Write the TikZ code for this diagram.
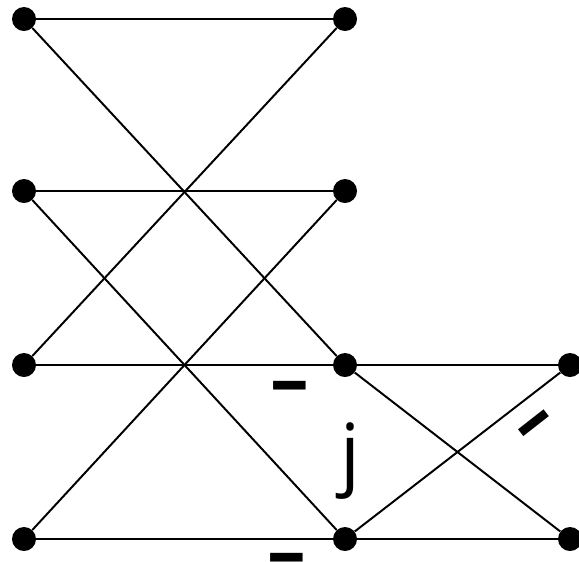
\documentclass[tikz,border=0pt]{standalone}
\usepackage{fontspec}
\setmainfont{Open Sans}
\usetikzlibrary{positioning}
\newcommand{\dashglyph}{\raisebox{-0.26em}[0.08em][0pt]{–}}

\begin{document}
\begin{tikzpicture}[
  x=0.025cm, y=-0.025cm,
  dot/.style={circle, fill=black, inner sep=0pt, minimum size=0.6cm},
  edge/.style={line width=1.4pt},
  lbl/.style={font=\fontsize{56}{56}\selectfont, inner sep=0pt},
  bar/.style={font=\fontsize{55}{55}\selectfont\bfseries, inner sep=0pt},
]
  \useasboundingbox (0,0) rectangle (579,561);
  \node[dot] (a1) at (24,19) {};
  \node[dot] (a2) at (24,191) {};
  \node[dot] (a3) at (24,365) {};
  \node[dot] (a4) at (24,539) {};
  \node[dot] (b1) at (345,19) {};
  \node[dot] (b2) at (345,191) {};
  \node[dot] (b3) at (345,365) {};
  \node[dot] (b4) at (345,539) {};
  \node[dot] (c3) at (570,365) {};
  \node[dot] (c4) at (570,539) {};

  \draw[edge] (a1) -- (b1);
  \draw[edge] (a1) -- (b3);
  \draw[edge] (a3) -- (b1);
  \draw[edge] (a2) -- (b2);
  \draw[edge] (a2) -- (b4);
  \draw[edge] (a4) -- (b2);
  \draw[edge] (a3) -- (b3);
  \draw[edge] (b3) -- (c3);
  \draw[edge] (a4) -- (b4);
  \draw[edge] (b4) -- (c4);
  \draw[edge] (b3) -- (c4);
  \draw[edge] (b4) -- (c3);

  \node[bar] (m1) at (290,383) {\dashglyph};
  \node[lbl] (jj) at (350,461) {j};
  \node[bar, rotate=38] (m3) at (532,421) {\dashglyph};
  \node[bar] (m2) at (287,555) {\dashglyph};
\end{tikzpicture}
\end{document}
